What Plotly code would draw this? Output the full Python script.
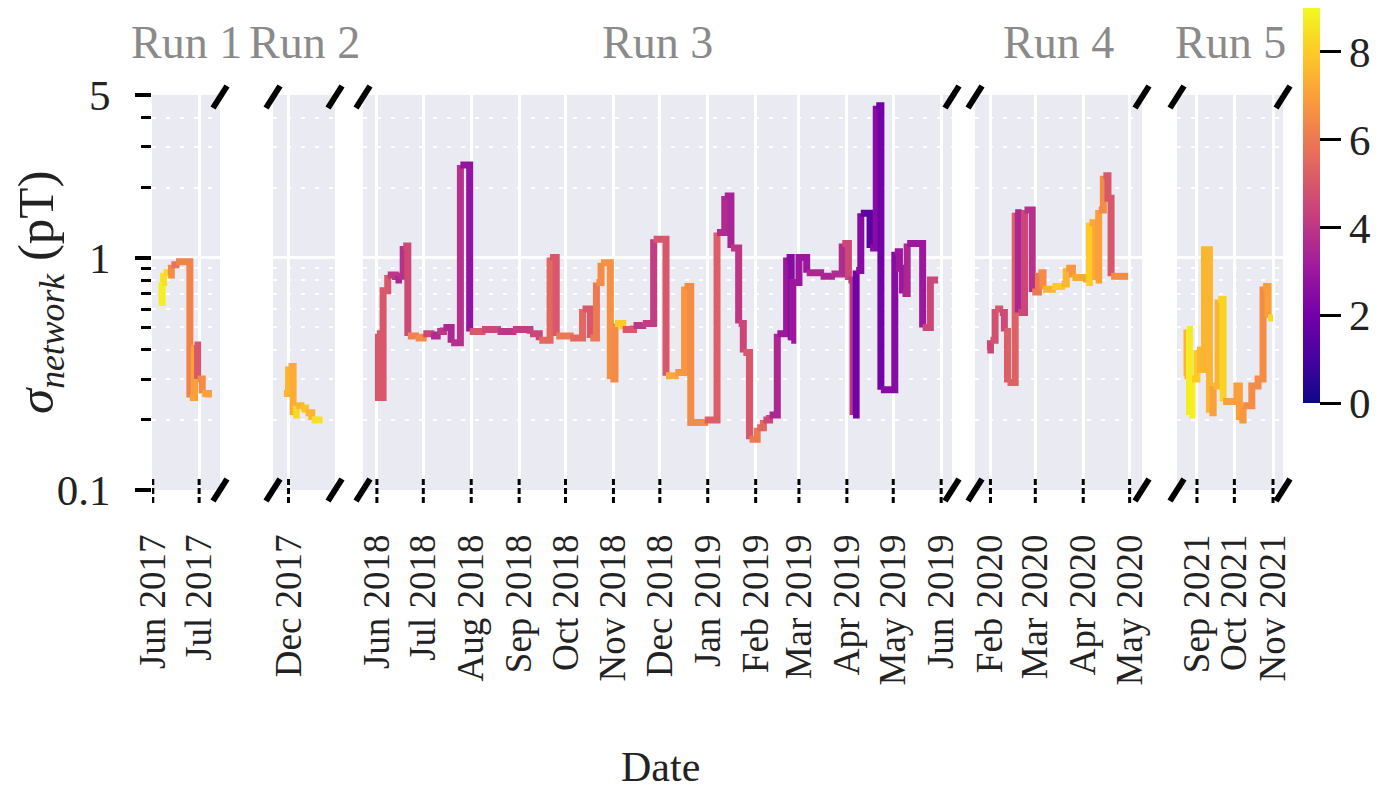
import plotly.graph_objects as go
from plotly.colors import sample_colorscale
import pandas as pd
import math

# ---------------- data ----------------
run1_dates = ["2017-06-05", "2017-06-07", "2017-06-08", "2017-06-11", "2017-06-13", "2017-06-16",
              "2017-06-25", "2017-06-28", "2017-06-30", "2017-07-03", "2017-07-07"]
run1_vals = [0.64, 0.78, 0.86, 0.84, 0.93, 0.96, 0.25, 0.42, 0.30, 0.26, 0.25]
run1_col = [8.8, 8.5, 8.3, 6.5, 5.8, 6.3, 7.0, 5.0, 6.5, 7.0, 7.0]

run2_dates = ["2017-11-28", "2017-12-01", "2017-12-04", "2017-12-06", "2017-12-09", "2017-12-12",
              "2017-12-16", "2017-12-23"]
run2_vals = [0.26, 0.34, 0.21, 0.23, 0.225, 0.215, 0.20, 0.20]
run2_col = [7.5, 7.3, 8.3, 7.5, 7.8, 7.5, 8.5, 8.5]

run3_dates = ["2018-06-01", "2018-06-02", "2018-06-05", "2018-06-08", "2018-06-13", "2018-06-15",
              "2018-06-18", "2018-06-21", "2018-06-26", "2018-07-01", "2018-07-06", "2018-07-10",
              "2018-07-14", "2018-07-19", "2018-07-25", "2018-07-31", "2018-08-08", "2018-08-18",
              "2018-08-28", "2018-09-08", "2018-09-14", "2018-09-21", "2018-09-25", "2018-10-04",
              "2018-10-12", "2018-10-17", "2018-10-21", "2018-10-24", "2018-10-30", "2018-11-02",
              "2018-11-07", "2018-11-14", "2018-11-20", "2018-11-27", "2018-12-05", "2018-12-11",
              "2018-12-17", "2018-12-21", "2018-12-30", "2019-01-07", "2019-01-12", "2019-01-16",
              "2019-01-21", "2019-01-24", "2019-01-28", "2019-02-02", "2019-02-06", "2019-02-10",
              "2019-02-15", "2019-02-21", "2019-02-24", "2019-02-25", "2019-03-01", "2019-03-06",
              "2019-03-15", "2019-03-22", "2019-03-29", "2019-04-02", "2019-04-05", "2019-04-07",
              "2019-04-10", "2019-04-16", "2019-04-20", "2019-04-23", "2019-05-02", "2019-05-05",
              "2019-05-07", "2019-05-10", "2019-05-20", "2019-05-25", "2019-05-30"]
run3_vals = [0.47, 0.25, 0.72, 0.84, 0.80, 0.83,
             1.12, 0.46, 0.45, 0.47, 0.46, 0.48,
             0.50, 0.43, 2.5, 0.48, 0.49, 0.48,
             0.49, 0.47, 0.44, 1.0, 0.46, 0.45,
             0.60, 0.45, 0.78, 0.95, 0.30, 0.52,
             0.49, 0.51, 0.52, 1.2, 0.31, 0.32,
             0.75, 0.195, 0.20, 1.28, 1.84, 1.10,
             0.52, 0.39, 0.165, 0.185, 0.20, 0.21,
             0.47, 1.0, 0.44, 0.78, 1.0, 0.86,
             0.83, 0.85, 1.15, 0.80, 0.21, 0.88,
             1.55, 1.10, 4.5, 0.27, 1.06, 0.90,
             0.70, 1.15, 0.50, 0.80, 0.80]
run3_col = [5.0, 5.0, 5.0, 4.0, 3.5, 3.8,
            4.6, 6.2, 6.5, 4.5, 3.6, 4.0,
            3.5, 3.8, 2.8, 5.0, 4.5, 4.0,
            4.2, 4.5, 5.5, 5.0, 6.0, 5.5,
            5.0, 6.0, 6.5, 6.6, 6.5, 8.0,
            5.0, 4.0, 4.2, 5.0, 7.2, 6.8,
            6.5, 6.5, 5.2, 3.6, 3.4, 4.0,
            4.5, 5.0, 6.0, 5.5, 4.5, 3.5,
            3.0, 2.5, 3.0, 3.0, 3.0, 3.5,
            3.4, 3.6, 4.5, 4.0, 2.0, 2.5,
            1.5, 2.5, 2.0, 2.5, 3.0, 3.0,
            3.5, 3.0, 4.5, 4.5, 4.5]

run4_dates = ["2020-01-30", "2020-02-01", "2020-02-04", "2020-02-07", "2020-02-10", "2020-02-12",
              "2020-02-17", "2020-02-19", "2020-02-23", "2020-02-28", "2020-03-03", "2020-03-06",
              "2020-03-12", "2020-03-18", "2020-03-21", "2020-03-25", "2020-04-03", "2020-04-05",
              "2020-04-09", "2020-04-11", "2020-04-14", "2020-04-17", "2020-04-19", "2020-04-30"]
run4_vals = [0.40, 0.44, 0.60, 0.58, 0.48, 0.29,
             1.56, 0.58, 1.60, 0.71, 0.86, 0.73,
             0.75, 0.77, 0.90, 0.82, 0.78, 1.41,
             0.80, 1.60, 2.25, 1.80, 0.83, 0.83]
run4_col = [4.5, 4.8, 5.0, 4.6, 5.2, 5.3,
            3.5, 4.5, 3.8, 6.0, 6.5, 7.5,
            8.0, 7.5, 6.8, 7.2, 8.0, 7.2,
            7.0, 6.5, 5.0, 5.0, 6.5, 6.5]

run5_dates = ["2021-08-22", "2021-08-24", "2021-08-26", "2021-08-28", "2021-09-01", "2021-09-04",
              "2021-09-07", "2021-09-11", "2021-09-14", "2021-09-18", "2021-09-22", "2021-10-03",
              "2021-10-05", "2021-10-08", "2021-10-15", "2021-10-20", "2021-10-24", "2021-10-28",
              "2021-11-01"]
run5_vals = [0.31, 0.49, 0.21, 0.30, 0.40, 0.33,
             1.08, 0.215, 0.28, 0.66, 0.24, 0.28,
             0.20, 0.23, 0.28, 0.30, 0.75, 0.55, 0.55]
run5_col = [7.5, 8.7, 8.8, 8.0, 7.5, 7.5,
            7.5, 7.0, 7.5, 8.2, 7.0, 7.0,
            6.8, 6.5, 6.5, 6.5, 7.0, 8.3, 8.3]

run_labels = ["Run 1", "Run 2", "Run 3", "Run 4", "Run 5"]
run_ranges = [["2017-05-31 12:00", "2017-07-14 12:00"],
              ["2017-11-21", "2017-12-31"],
              ["2018-05-23", "2019-06-08"],
              ["2020-01-22", "2020-05-09"],
              ["2021-08-16", "2021-11-09"]]
cbar_ticks = [0, 2, 4, 6, 8]
cmin, cmax = 0, 9
y_tickvals = [0.1, 1, 5]
y_ticktext = ["0.1", "1", "5"]

# ---------------- layout geometry (pixels) ----------------
W, H = 1388, 793
panel_px = [(152, 220), (273, 335), (363, 952), (975, 1142), (1177, 1283)]
y_top_px, y_bot_px = 95, 490


def px(x):
    return x / W


def py(y):
    return 1 - y / H


FONT = "Liberation Serif"
TXT = "#222222"

runs = [(run1_dates, run1_vals, run1_col), (run2_dates, run2_vals, run2_col),
        (run3_dates, run3_vals, run3_col), (run4_dates, run4_vals, run4_col),
        (run5_dates, run5_vals, run5_col)]

fig = go.Figure()

for k, (d, v, c) in enumerate(runs):
    xa = "x" if k == 0 else f"x{k+1}"
    ya = "y" if k == 0 else f"y{k+1}"
    n = len(d)
    i = 0
    while i < n - 1:
        j = i
        while j + 1 < n - 1 and c[j + 1] == c[i]:
            j += 1
        col = sample_colorscale("Plasma", [c[i] / cmax])[0]
        fig.add_trace(go.Scatter(x=d[i:j + 2], y=v[i:j + 2], mode="lines",
                                 line=dict(color=col, width=7, shape="hv"),
                                 xaxis=xa, yaxis=ya, showlegend=False, hoverinfo="skip"))
        i = j + 1

# colorbar carrier
fig.add_trace(go.Scatter(
    x=[run1_dates[0]], y=[run1_vals[0]], mode="markers", xaxis="x", yaxis="y",
    marker=dict(size=0.1, opacity=0, color=[run1_col[0]], cmin=cmin, cmax=cmax,
                colorscale="Plasma", showscale=True,
                colorbar=dict(thickness=17, thicknessmode="pixels", len=395 / H, lenmode="fraction",
                              x=px(1303), xanchor="left", y=py(8), yanchor="top", xpad=0, ypad=0,
                              outlinewidth=0, tickvals=cbar_ticks, ticks="outside", ticklen=21,
                              tickwidth=3, tickcolor="black", ticklabelposition="outside",
                              tickfont=dict(family=FONT, size=43, color=TXT))),
    showlegend=False, hoverinfo="skip"))

ylog_range = [math.log10(0.1) - 0.0005, math.log10(5) + 0.0005]
shapes = []
annotations = []
layout = dict(width=W, height=H, margin=dict(l=0, r=0, t=0, b=0, autoexpand=False),
              paper_bgcolor="white", plot_bgcolor="#EAEAF2",
              font=dict(family=FONT, size=36, color=TXT))

for k in range(5):
    xs = "" if k == 0 else str(k + 1)
    x0, x1 = panel_px[k]
    layout[f"xaxis{xs}"] = dict(
        domain=[px(x0), px(x1)], range=run_ranges[k], type="date", anchor=f"y{xs}",
        dtick="M1", tick0="2000-01-01", tickformat="%b %Y", tickangle=-90, ticks="",
        showgrid=True, gridcolor="white", gridwidth=3, zeroline=False, showline=False,
        automargin=False,
        tickfont=dict(family=FONT, size=37, color=TXT), ticklabelstandoff=36)
    layout[f"yaxis{xs}"] = dict(
        domain=[py(y_bot_px), py(y_top_px)], type="log", range=ylog_range, anchor=f"x{xs}",
        tickmode="array", tickvals=y_tickvals, ticktext=y_ticktext,
        showticklabels=(k == 0), ticks="outside" if k == 0 else "", ticklen=16, tickwidth=4,
        tickcolor="black", showgrid=True, gridcolor="white", gridwidth=3, zeroline=False,
        showline=False, automargin=False,
        tickfont=dict(family=FONT, size=43, color=TXT), ticklabelstandoff=16,
        minor=dict(dtick="D1", showgrid=True, gridcolor="white", griddash="4px,10px", gridwidth=2,
                   ticks="outside" if k == 0 else "", ticklen=10, tickwidth=3, tickcolor="black"))
    # dashed x ticks crossing bottom edge
    for t in pd.date_range(pd.Timestamp(run_ranges[k][0]).ceil("D"), run_ranges[k][1], freq="MS"):
        shapes.append(dict(type="line", xref=f"x{xs}", yref="paper", x0=t, x1=t,
                           y0=py(503), y1=py(478), line=dict(color="black", width=3, dash="6px,3px")))
    # run label
    annotations.append(dict(text=run_labels[k], x=px((x0 + x1) / 2), y=py(42), xref="paper",
                            yref="paper", showarrow=False, xanchor="center", yanchor="middle",
                            font=dict(family=FONT, size=46, color="#8a8a8a")))
    # break marks
    edges = []
    if k > 0:
        edges.append(x0)
    edges.append(x1)
    for ex in edges:
        for ey in (y_top_px + 2, y_bot_px):
            shapes.append(dict(type="line", xref="paper", yref="paper",
                               x0=px(ex - 7), y0=py(ey + 11), x1=px(ex + 7), y1=py(ey - 11),
                               line=dict(color="black", width=6)))

annotations.append(dict(text="<i>σ</i><sub><i>network</i></sub> (pT)", x=px(40), y=py(292),
                        xref="paper", yref="paper", showarrow=False, textangle=-90,
                        xanchor="center", yanchor="middle", font=dict(family=FONT, size=51, color=TXT)))
annotations.append(dict(text="Date", x=px(660), y=py(767), xref="paper", yref="paper",
                        showarrow=False, xanchor="center", yanchor="middle",
                        font=dict(family=FONT, size=42, color=TXT)))

layout["shapes"] = shapes
layout["annotations"] = annotations
fig.update_layout(**layout)
fig.write_html("out.html")
